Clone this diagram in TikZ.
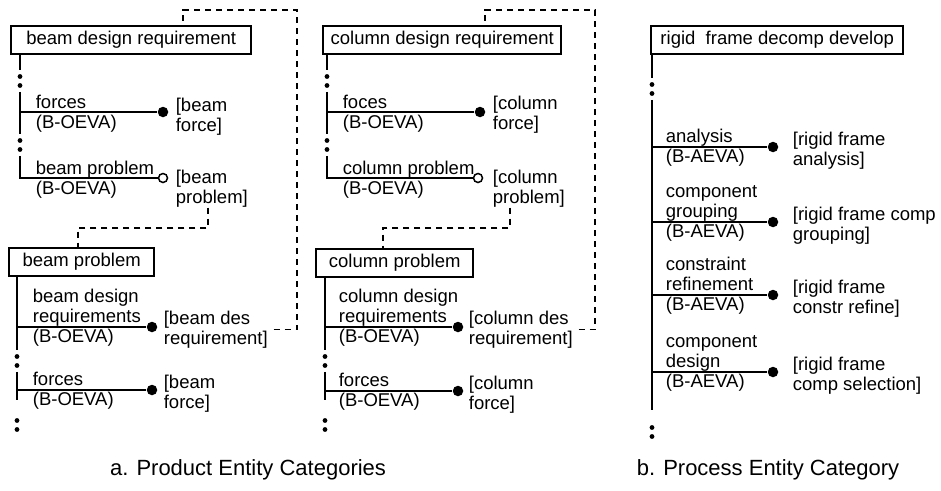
\documentclass[tikz,border=0pt]{standalone}
\usepackage{fontspec}
\setmainfont{Liberation Sans}
\newcommand\lblsize{\fontsize{18.5}{20}\selectfont}
\newcommand\capsize{\fontsize{22}{24}\selectfont}

\begin{document}
\begin{tikzpicture}[x=1pt,y=-1pt,line width=1.7pt,
    box/.style={draw,line width=2.4pt,anchor=north west,minimum height=28pt,inner ysep=0pt,font=\lblsize},
    lbl/.style={anchor=base west,inner sep=0pt,align=left,font=\lblsize},
    full/.style={circle,fill,inner sep=0pt,minimum size=10.5pt},
    hollow/.style={circle,draw,fill=white,line width=1.5pt,inner sep=0pt,minimum size=9pt},
    gap/.style={inner sep=0pt,minimum width=5pt,minimum height=20pt,
      path picture={\fill ([yshift=-5.5pt]path picture bounding box.north) circle (2.4pt)
                          ([yshift=5.5pt]path picture bounding box.south) circle (2.4pt);}},
    link/.style={line width=1.4pt,dash pattern=on 6pt off 5pt}]
  \useasboundingbox (0,0) rectangle (941,490);

  % beam design requirement
  \node[box,minimum width=240pt] (bdr) at (10,25) {beam design requirement};
  \node[gap] (g1) at (20,81) {};
  \node[gap] (g2) at (20,145) {};
  \node[full] (f1) at (163,112) {};
  \node[hollow] (f2) at (163,178) {};
  \draw (bdr.south -| g1) -- (g1.north);
  \draw (g1.south) -- (g2.north);
  \draw (g1.south |- f1) -- (f1);
  \draw (g2.south) |- (f2);
  \node[lbl] (la1) at (35,128) {forces\\(B-OEVA)};
  \node[lbl] (ra1) at (175,131) {[beam\\force]};
  \node[lbl] (la2) at (35,194) {beam problem\\(B-OEVA)};
  \node[lbl] (ra2) at (175,203) {[beam\\problem]};

  % beam problem
  \node[box,minimum width=145pt] (bp) at (8,247) {beam problem};
  \coordinate (kA) at (78,228);
  \draw[link] ([xshift=33pt]ra2.south west) |- (kA) -- (kA |- bp.north);
  \node[gap] (g3) at (17,361) {};
  \node[gap] (g4) at (17,425) {};
  \node[full] (f3) at (152,327) {};
  \node[full] (f4) at (152,390) {};
  \coordinate (endB) at (17,400);
  \draw (bp.south -| g3) -- (g3.north);
  \draw (f3 -| g3) -- (f3);
  \draw (g3.south) -- (endB);
  \draw (f4 -| g3) -- (f4);
  \node[lbl] (lb1) at (32,342) {beam design\\requirements\\(B-OEVA)};
  \node[lbl] (rb1) at (163,344) {[beam des\\requirement]};
  \node[lbl] (lb2) at (32,405) {forces\\(B-OEVA)};
  \node[lbl] (rb2) at (163,408) {[beam\\force]};
  \coordinate (cA) at (297,10);
  \draw[link,shorten <=5pt] (rb1.east) -| (cA) -| ([xshift=173pt]bdr.north west);

  % column design requirement
  \node[box,minimum width=238pt] (cdr) at (322,25) {column design requirement};
  \node[gap] (g5) at (327,81) {};
  \node[gap] (g6) at (327,145) {};
  \node[full] (f5) at (480,112) {};
  \node[hollow] (f6) at (478,178) {};
  \draw (cdr.south -| g5) -- (g5.north);
  \draw (g5.south) -- (g6.north);
  \draw (g5.south |- f5) -- (f5);
  \draw (g6.south) |- (f6);
  \node[lbl] (lc1) at (342,128) {foces\\(B-OEVA)};
  \node[lbl] (rc1) at (492,129) {[column\\force]};
  \node[lbl] (lc2) at (342,194) {column problem\\(B-OEVA)};
  \node[lbl] (rc2) at (492,203) {[column\\problem]};

  % column problem
  \node[box,minimum width=157pt] (cp) at (315,248) {column problem};
  \coordinate (kC) at (383,228);
  \draw[link] ([xshift=18pt]rc2.south west) |- (kC) -- (kC |- cp.north);
  \node[gap] (g7) at (325,361) {};
  \node[gap] (g8) at (325,425) {};
  \node[full] (f7) at (458,327) {};
  \node[full] (f8) at (458,391) {};
  \coordinate (endD) at (325,400);
  \draw (cp.south -| g7) -- (g7.north);
  \draw (f7 -| g7) -- (f7);
  \draw (g7.south) -- (endD);
  \draw (f8 -| g7) -- (f8);
  \node[lbl] (ld1) at (338,342) {column design\\requirements\\(B-OEVA)};
  \node[lbl] (rd1) at (468,344) {[column des\\requirement]};
  \node[lbl] (ld2) at (338,406) {forces\\(B-OEVA)};
  \node[lbl] (rd2) at (468,409) {[column\\force]};
  \coordinate (cC) at (595,10);
  \draw[link,shorten <=5pt] (rd1.east) -| (cC) -| ([xshift=163pt]cdr.north west);

  % rigid frame decomp develop
  \node[box,minimum width=252pt] (rfd) at (650,25) {rigid\ \ frame decomp develop};
  \node[gap] (g9) at (652,89) {};
  \node[gap] (g10) at (652,432) {};
  \coordinate (endE) at (652,410);
  \node[full] (e1) at (773,147) {};
  \node[full] (e2) at (773,222) {};
  \node[full] (e3) at (773,295) {};
  \node[full] (e4) at (773,372) {};
  \draw (rfd.south -| g9) -- (g9.north);
  \draw (g9.south) -- (endE);
  \foreach \e in {e1,e2,e3,e4}
    \draw (\e -| g9) -- (\e);
  \node[lbl] (le1) at (665,162) {analysis\\(B-AEVA)};
  \node[lbl] (le2) at (665,237) {component\\grouping\\(B-AEVA)};
  \node[lbl] (le3) at (665,310) {constraint\\refinement\\(B-AEVA)};
  \node[lbl] (le4) at (665,387) {component\\design\\(B-AEVA)};
  \node[lbl] (re1) at (792,165) {[rigid frame\\analysis]};
  \node[lbl] (re2) at (792,240) {[rigid frame comp\\grouping]};
  \node[lbl] (re3) at (792,313) {[rigid frame\\constr refine]};
  \node[lbl] (re4) at (792,390) {[rigid frame\\comp selection]};

  % captions
  \node[font=\capsize,anchor=base] (capa) at (248,475) {a. Product Entity Categories};
  \node[font=\capsize,anchor=base] (capb) at (768,475) {b. Process Entity Category};
\end{tikzpicture}
\end{document}
